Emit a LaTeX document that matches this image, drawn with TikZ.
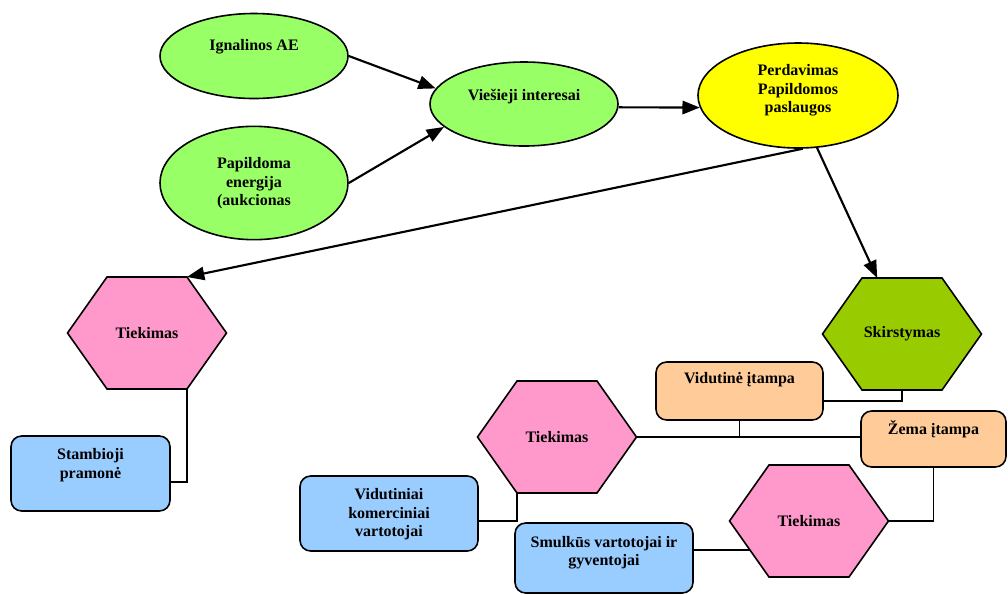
\documentclass[tikz,border=0pt]{standalone}
\usepackage{fontspec}
\setmainfont{Liberation Serif}
\usetikzlibrary{shapes.geometric,arrows.meta,calc}
\definecolor{elgreen}{HTML}{99FF66}
\definecolor{elyellow}{HTML}{FFFF00}
\definecolor{hexpink}{HTML}{FF99CC}
\definecolor{hexgreen}{HTML}{99CC00}
\definecolor{boxorange}{HTML}{FFCC99}
\definecolor{boxblue}{HTML}{99CCFF}
\newcommand\hexa[5]{%
  \coordinate (#1-l) at (#2-79.5,#3);
  \coordinate (#1-tl) at (#2-40,#3-56);
  \coordinate (#1-tr) at (#2+40,#3-56);
  \coordinate (#1-r) at (#2+79.5,#3);
  \coordinate (#1-br) at (#2+40,#3+56);
  \coordinate (#1-bl) at (#2-40,#3+56);
  \filldraw[fill=#4, shapeline] (#1-l) -- (#1-tl) -- (#1-tr) -- (#1-r) -- (#1-br) -- (#1-bl) -- cycle;
  \node[hexbox] (#1) at (#2,#3) {#5};
}
\begin{document}
\begin{tikzpicture}[x=0.75pt,y=-0.75pt,
  every node/.style={font=\bfseries\fontsize{12}{13.9}\selectfont},
  shapeline/.style={line width=1.2pt, line join=miter},
  ell/.style={ellipse, draw, shapeline, inner sep=0pt},
  lbl/.style={align=center, inner sep=0pt},
  arr/.style={line width=1.6pt, -{Triangle[length=13pt,width=10pt]}},
  con/.style={line width=1.4pt},
  rbox/.style={draw, rounded corners=8pt, shapeline, inner sep=0pt},
  hexbox/.style={rectangle, inner sep=0pt, minimum width=119.25pt, minimum height=84pt}]
\useasboundingbox (0,0) rectangle (1008,594);

% ellipses
\node[ell, fill=elgreen, minimum width=141pt, minimum height=63.75pt] (ign) at (254,56) {};
\node[lbl] (ign-t) at (254,47) {Ignalinos AE};
\node[ell, fill=elgreen, minimum width=141pt, minimum height=85pt] (pap) at (254,183) {};
\node[lbl] (pap-t) at (254,183.5) {Papildoma\\energija\\(aukcionas};
\node[ell, fill=elgreen, minimum width=141pt, minimum height=63pt] (vie) at (524,104) {};
\node[lbl] (vie-t) at (524,97) {Viešieji interesai};
\node[ell, fill=elyellow, minimum width=150pt, minimum height=78.75pt] (per) at (798,95.5) {};
\node[lbl] (per-t) at (798,90.5) {Perdavimas\\Papildomos\\paslaugos};

% hexagons
\hexa{tiek1}{147}{333}{hexpink}{Tiekimas}
\hexa{skir}{902}{334}{hexgreen}{Skirstymas}
\hexa{tiek2}{557}{437}{hexpink}{Tiekimas}
\hexa{tiek3}{809}{521}{hexpink}{Tiekimas}

% boxes
\node[rbox, fill=boxblue, minimum width=119.25pt, minimum height=56.25pt] (stamb) at (90.5,473.5) {};
\node[lbl] (stamb-t) at (90.5,465) {Stambioji\\pramonė};
\node[rbox, fill=boxorange, minimum width=125.25pt, minimum height=43.5pt] (vid) at (739.5,391) {};
\node[lbl] (vid-t) at (739.5,380) {Vidutinė įtampa};
\node[rbox, fill=boxorange, minimum width=108.75pt, minimum height=42pt] (zema) at (933.5,439) {};
\node[lbl] (zema-t) at (933.5,429) {Žema įtampa};
\node[rbox, fill=boxblue, minimum width=133.5pt, minimum height=56.25pt] (vkv) at (389,513.5) {};
\node[lbl] (vkv-t) at (389,514.5) {Vidutiniai\\komerciniai\\vartotojai};
\node[rbox, fill=boxblue, minimum width=133.5pt, minimum height=52.5pt] (smul) at (604,558) {};
\node[lbl] (smul-t) at (604,552.5) {Smulkūs vartotojai ir\\gyventojai};

% arrows
\draw[arr] (ign.east) -- (vie.170);
\draw[arr] (pap.east) -- (vie.196);
\draw[arr] (vie.358) -- (per.187);
\draw[arr] (per.275) -- (tiek1-tr);
\coordinate (skirin) at ($(skir-tl)!0.19!(skir-tr)$);
\draw[arr] (per.290) -- (skirin);

% connectors
\draw[con] (tiek1-br) |- ($(stamb.east)+(0,8.5)$);
\draw[con] ($(vid.east)+(0,10)$) -| (skir.south);
\draw[con] (tiek2.east) -- (tiek2.east -| zema.west);
\draw[con] (vid.south) -- (vid.south |- tiek2.east);
\draw[con] (zema.south) |- (tiek3.east);
\draw[con] (tiek2-bl) |- ($(vkv.east)+(0,7.5)$);
\coordinate (t3edge) at ($(tiek3-l)!0.52!(tiek3-bl)$);
\draw[con] (smul.east |- t3edge) -- (t3edge);
\end{tikzpicture}
\end{document}
